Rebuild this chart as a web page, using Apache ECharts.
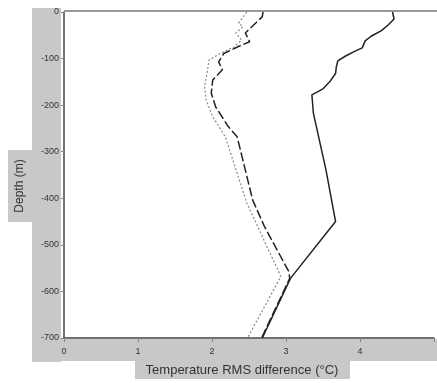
<!DOCTYPE html>
<html><head><meta charset="utf-8">
<script src="https://cdn.jsdelivr.net/npm/echarts@6/dist/echarts.min.js"></script>
<style>html,body{margin:0;padding:0;background:#fff}#c{width:437px;height:383px}</style>
</head><body><div id="c"></div>
<script>
// Depth (m) and temperature RMS difference (°C) for each profile
var solidDepth = [0,-15,-28,-40,-52,-62,-77,-85,-95,-105,-118,-132,-150,-165,-178,-217,-339,-450,-572,-700];
var solidTemp  = [4.44,4.46,4.38,4.29,4.15,4.07,4.03,3.92,3.80,3.70,3.68,3.67,3.59,3.50,3.35,3.37,3.54,3.67,3.06,2.68];
var dashDepth = [0,-10,-45,-64,-71,-89,-107,-124,-146,-174,-204,-246,-268,-404,-461,-558,-572,-700];
var dashTemp  = [2.69,2.68,2.45,2.51,2.40,2.16,2.09,2.14,2.01,1.99,2.05,2.22,2.34,2.55,2.71,3.04,3.05,2.67];
var dotDepth = [0,-24,-32,-45,-60,-75,-90,-103,-124,-160,-189,-225,-268,-410,-568,-700];
var dotTemp  = [2.47,2.36,2.42,2.32,2.40,2.30,2.10,1.96,1.94,1.90,1.92,2.01,2.18,2.47,2.93,2.48];
var xTicks = [0,1,2,3,4];
var yTicks = [0,-100,-200,-300,-400,-500,-600,-700];
var xTitle = 'Temperature RMS difference (°C)';
var yTitle = 'Depth (m)';

function pairs(t, d){ return t.map(function(v,i){ return [v, d[i]]; }); }
var gray = '#c8c8c8';
var chart = echarts.init(document.getElementById('c'));
chart.setOption({
  animation: false,
  backgroundColor: '#fff',
  grid: {left: 64, top: 12, right: -7, bottom: 45, show: false},
  graphic: [
    {type:'rect', shape:{x:32,y:8,width:29,height:354}, style:{fill:gray}, z:-10, silent:true},
    {type:'rect', shape:{x:32,y:339,width:410,height:22}, style:{fill:gray}, z:-10, silent:true},
    {type:'rect', shape:{x:8,y:150,width:25,height:72}, style:{fill:gray}, z:-10, silent:true},
    {type:'rect', shape:{x:135,y:360,width:215,height:19}, style:{fill:gray}, z:-10, silent:true},
    {type:'line', shape:{x1:64,y1:11,x2:437,y2:11}, style:{stroke:'#999',lineWidth:2}, z:5, silent:true},
    {type:'text', x:20, y:186, rotation:Math.PI/2, style:{text:yTitle, fill:'#333', font:'12px "Liberation Sans", Arial', textAlign:'center', textVerticalAlign:'middle'}, z:5},
    {type:'text', x:242, y:370, style:{text:xTitle, fill:'#333', font:'13px "Liberation Sans", Arial', textAlign:'center', textVerticalAlign:'middle'}, z:5}
  ],
  xAxis: {
    type:'value', min:0, max:5, interval:1,
    axisLine:{show:true, onZero:false, lineStyle:{color:'#444', width:1.5}},
    axisTick:{show:true, length:4, lineStyle:{color:'#888'}},
    splitLine:{show:false},
    axisLabel:{color:'#333', fontSize:9, fontFamily:'Liberation Sans', margin:9,
      formatter:function(v){ return xTicks.indexOf(v) >= 0 ? String(v) : ''; }}
  },
  yAxis: {
    type:'value', min:-700, max:0, interval:100,
    axisLine:{show:true, onZero:false, lineStyle:{color:'#444', width:1.5}},
    axisTick:{show:true, length:3, lineStyle:{color:'#888'}},
    splitLine:{show:false},
    axisLabel:{color:'#333', fontSize:9, fontFamily:'Liberation Sans', margin:5,
      formatter:function(v){ return yTicks.indexOf(v) >= 0 ? String(v) : ''; }}
  },
  series: [
    {type:'line', data:pairs(dotTemp, dotDepth), showSymbol:false, lineStyle:{color:'#888', width:1.2, type:[2,2]}, z:3},
    {type:'line', data:pairs(dashTemp, dashDepth), showSymbol:false, lineStyle:{color:'#222', width:1.5, type:[9,3]}, z:4},
    {type:'line', data:pairs(solidTemp, solidDepth), showSymbol:false, lineStyle:{color:'#222', width:1.5}, z:5}
  ]
});
</script></body></html>
